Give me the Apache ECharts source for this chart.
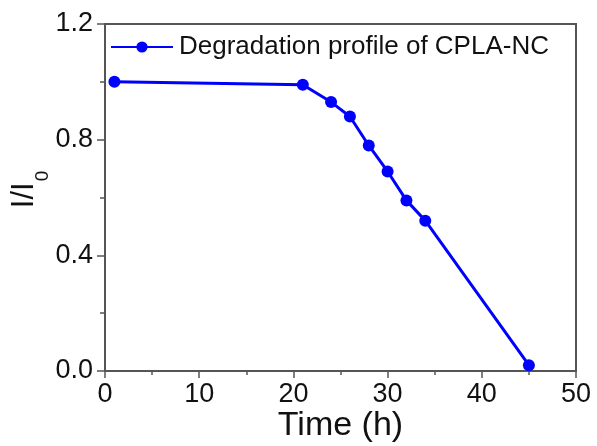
<!DOCTYPE html>
<html><head><meta charset="utf-8">
<script src="https://cdn.jsdelivr.net/npm/echarts@6/dist/echarts.min.js"></script>
<style>html,body{margin:0;padding:0;background:#fff}#c{width:597px;height:446px}</style>
</head><body><div id="c"></div>
<script>
const timeH = [1, 21, 24, 26, 28, 30, 32, 34, 45];
const ratio = [1.0, 0.99, 0.93, 0.88, 0.78, 0.69, 0.59, 0.52, 0.02];
const seriesName = 'Degradation profile of CPLA-NC';
const xTicks = [0, 10, 20, 30, 40, 50];
const yTicks = [0.0, 0.4, 0.8, 1.2];

const FONT = '"Liberation Sans", Arial, sans-serif';
const AX = '#555';
const TXT = '#111';
const chart = echarts.init(document.getElementById('c'), null, {renderer: 'canvas'});
chart.setOption({
  animation: false,
  backgroundColor: '#fff',
  textStyle: {fontFamily: FONT},
  grid: {left: 105, right: 21, top: 24, bottom: 75, containLabel: false, outerBoundsMode: 'none',
    show: true, borderColor: AX, borderWidth: 2},
  legend: {
    left: 110, top: 33, padding: 0, itemWidth: 62, itemHeight: 14, itemGap: 5,
    textStyle: {fontSize: 26, color: TXT, fontFamily: FONT, lineHeight: 28, padding: [0, 0, 0, 1]},
    data: [seriesName]
  },
  xAxis: {
    type: 'value', min: xTicks[0], max: xTicks[xTicks.length - 1], interval: 10,
    name: 'Time (h)', nameLocation: 'middle', nameGap: 38, nameMoveOverlap: false,
    nameTextStyle: {fontSize: 34, color: TXT, fontFamily: FONT},
    axisLine: {show: true, lineStyle: {color: AX, width: 2}},
    axisTick: {show: true, inside: false, length: 7, lineStyle: {color: AX, width: 1.5}},
    minorTick: {show: true, splitNumber: 2, length: 4, lineStyle: {color: AX, width: 1.5}},
    axisLabel: {fontSize: 27, color: TXT, margin: 10, fontFamily: FONT},
    splitLine: {show: false}
  },
  yAxis: {
    type: 'value', min: yTicks[0], max: yTicks[yTicks.length - 1], interval: 0.4,
    name: '{a|I/I}{b|0}', nameLocation: 'middle', nameGap: 53, nameRotate: 90,
    nameMoveOverlap: false,
    nameTextStyle: {
      fontSize: 31, color: TXT, fontFamily: FONT, padding: [0, 0, 0, 16],
      align: 'center', verticalAlign: 'bottom',
      rich: {
        a: {fontSize: 31, color: TXT, fontFamily: FONT, verticalAlign: 'top'},
        b: {fontSize: 19, color: TXT, fontFamily: FONT, verticalAlign: 'bottom', padding: [24, 0, 0, 1]}
      }
    },
    axisLine: {show: true, lineStyle: {color: AX, width: 2}},
    axisTick: {show: true, inside: false, length: 8, lineStyle: {color: AX, width: 1.5}},
    minorTick: {show: true, splitNumber: 2, length: 5, lineStyle: {color: AX, width: 1.5}},
    axisLabel: {fontSize: 27, color: TXT, margin: 12, fontFamily: FONT,
      formatter: v => v.toFixed(1)},
    splitLine: {show: false}
  },
  series: [{
    name: seriesName, type: 'line',
    data: timeH.map((t, i) => [t, ratio[i]]),
    symbol: 'circle', symbolSize: 12,
    lineStyle: {color: '#0000ff', width: 3},
    itemStyle: {color: '#0000ff'}
  }]
});
</script></body></html>
